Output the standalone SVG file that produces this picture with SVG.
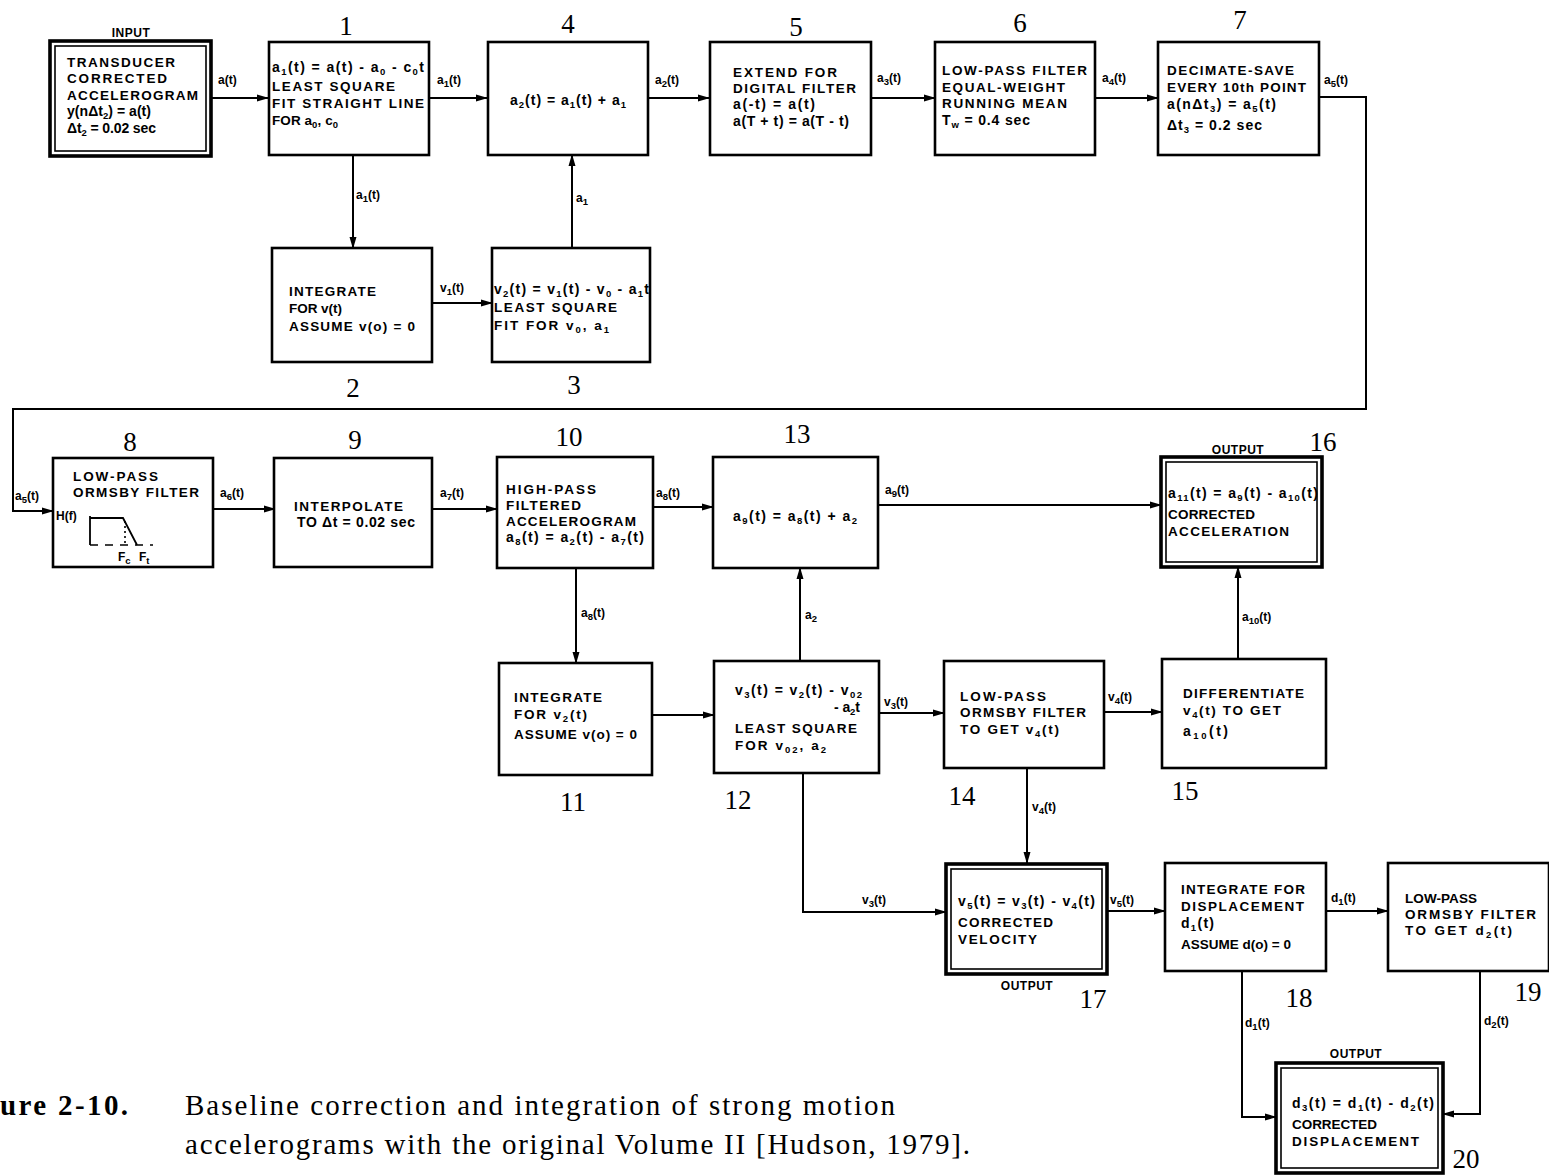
<svg xmlns="http://www.w3.org/2000/svg" width="1549" height="1175" viewBox="0 0 1549 1175">
<defs>
<marker id="ah" markerUnits="userSpaceOnUse" markerWidth="12" markerHeight="8" refX="11" refY="4" orient="auto">
<path d="M0,0.5 L12,4 L0,7.5 z" fill="#000"/>
</marker>
<style>
.bx{fill:#fff;stroke:#000;stroke-width:2.6}
.ob{fill:#fff;stroke:#000;stroke-width:3.6}
.ib{fill:none;stroke:#000;stroke-width:1.6}
.c{fill:none;stroke:#000;stroke-width:2;marker-end:url(#ah)}
.t{font-family:"Liberation Sans",Arial,sans-serif;font-weight:bold;font-size:13.5px;letter-spacing:1px;fill:#000}
.e{font-family:"Liberation Sans",Arial,sans-serif;font-weight:bold;font-size:14px;fill:#000}
.l{font-family:"Liberation Sans",Arial,sans-serif;font-weight:bold;font-size:12px;fill:#000}
.s{font-size:9.5px;baseline-shift:-3px}
.n{font-family:"Liberation Serif","Times New Roman",serif;font-size:27px;text-anchor:middle;fill:#000}
.cap{font-family:"Liberation Serif","Times New Roman",serif;font-size:29px;fill:#000}
.io{font-family:"Liberation Sans",Arial,sans-serif;font-weight:bold;font-size:12px;text-anchor:middle;letter-spacing:0.5px;fill:#000}
</style>
</defs>
<rect width="1549" height="1175" fill="#fff"/>

<g id="connectors">
<path class="c" d="M212,98 H268"/>
<path class="c" d="M429,98 H487"/>
<path class="c" d="M648,98 H709"/>
<path class="c" d="M871,98 H935"/>
<path class="c" d="M1095,98 H1158"/>
<path class="c" d="M1319,97 H1366 V409 H13 V511 H53"/>
<path class="c" d="M353,155 V248"/>
<path class="c" d="M432,303 H492"/>
<path class="c" d="M572,248 V155"/>
<path class="c" d="M213,509 H275"/>
<path class="c" d="M432,509 H497"/>
<path class="c" d="M653,507 H713"/>
<path class="c" d="M878,505 H1161"/>
<path class="c" d="M576,568 V663"/>
<path class="c" d="M652,715 H714"/>
<path class="c" d="M800,661 V568"/>
<path class="c" d="M879,713 H944"/>
<path class="c" d="M1104,712 H1162"/>
<path class="c" d="M1238,659 V567"/>
<path class="c" d="M1027,768 V863"/>
<path class="c" d="M803,773 V912 H946"/>
<path class="c" d="M1107,911 H1165"/>
<path class="c" d="M1326,911 H1388"/>
<path class="c" d="M1242,971 V1117 H1276"/>
<path class="c" d="M1480,971 V1114 H1443"/>
<text class="l" x="218" y="84">a(t)</text>
<text class="l" x="437" y="84">a<tspan class="s">1</tspan>(t)</text>
<text class="l" x="655" y="84">a<tspan class="s">2</tspan>(t)</text>
<text class="l" x="877" y="82">a<tspan class="s">3</tspan>(t)</text>
<text class="l" x="1102" y="82">a<tspan class="s">4</tspan>(t)</text>
<text class="l" x="1324" y="84">a<tspan class="s">5</tspan>(t)</text>
<text class="l" x="356" y="199">a<tspan class="s">1</tspan>(t)</text>
<text class="l" x="440" y="292">v<tspan class="s">1</tspan>(t)</text>
<text class="l" x="576" y="202">a<tspan class="s">1</tspan></text>
<text class="l" x="15" y="500">a<tspan class="s">5</tspan>(t)</text>
<text class="l" x="220" y="497">a<tspan class="s">6</tspan>(t)</text>
<text class="l" x="440" y="497">a<tspan class="s">7</tspan>(t)</text>
<text class="l" x="656" y="497">a<tspan class="s">8</tspan>(t)</text>
<text class="l" x="885" y="494">a<tspan class="s">9</tspan>(t)</text>
<text class="l" x="581" y="617">a<tspan class="s">8</tspan>(t)</text>
<text class="l" x="805" y="619">a<tspan class="s">2</tspan></text>
<text class="l" x="884" y="706">v<tspan class="s">3</tspan>(t)</text>
<text class="l" x="1108" y="701">v<tspan class="s">4</tspan>(t)</text>
<text class="l" x="1242" y="621">a<tspan class="s">10</tspan>(t)</text>
<text class="l" x="1032" y="811">v<tspan class="s">4</tspan>(t)</text>
<text class="l" x="862" y="904">v<tspan class="s">3</tspan>(t)</text>
<text class="l" x="1110" y="904">v<tspan class="s">5</tspan>(t)</text>
<text class="l" x="1331" y="902">d<tspan class="s">1</tspan>(t)</text>
<text class="l" x="1245" y="1027">d<tspan class="s">1</tspan>(t)</text>
<text class="l" x="1484" y="1025">d<tspan class="s">2</tspan>(t)</text>
</g>

<g id="n-input">
<rect class="ob" x="50" y="41" width="161" height="115"/>
<rect class="ib" x="55" y="46" width="151" height="105"/>
<text class="io" x="131" y="37">INPUT</text>
<text class="t" x="67" y="67" textLength="109">TRANSDUCER</text>
<text class="t" x="67" y="83" textLength="101">CORRECTED</text>
<text class="t" x="67" y="100" textLength="132">ACCELEROGRAM</text>
<text class="e" x="67" y="116" textLength="84">y(nΔt<tspan class="s">2</tspan>) = a(t)</text>
<text class="e" x="67" y="133" textLength="89">Δt<tspan class="s">2</tspan> = 0.02 sec</text>
</g>

<g id="n1">
<rect class="bx" x="269" y="42" width="160" height="113"/>
<text class="n" x="346" y="35">1</text>
<text class="e" x="272" y="72" textLength="152">a<tspan class="s">1</tspan>(t) = a(t) - a<tspan class="s">0</tspan> - c<tspan class="s">0</tspan>t</text>
<text class="t" x="272" y="91" textLength="124">LEAST SQUARE</text>
<text class="t" x="272" y="108" textLength="153">FIT STRAIGHT LINE</text>
<text class="t" x="272" y="125" textLength="67">FOR a<tspan class="s">0</tspan>, c<tspan class="s">0</tspan></text>
</g>

<g id="n4">
<rect class="bx" x="488" y="42" width="160" height="113"/>
<text class="n" x="568" y="33">4</text>
<text class="e" x="510" y="105" textLength="116">a<tspan class="s">2</tspan>(t) = a<tspan class="s">1</tspan>(t) + a<tspan class="s">1</tspan></text>
</g>

<g id="n5">
<rect class="bx" x="710" y="42" width="161" height="113"/>
<text class="n" x="796" y="36">5</text>
<text class="t" x="733" y="77" textLength="105">EXTEND FOR</text>
<text class="t" x="733" y="93" textLength="124">DIGITAL FILTER</text>
<text class="e" x="733" y="109" textLength="82">a(-t) = a(t)</text>
<text class="e" x="733" y="126" textLength="116">a(T + t) = a(T - t)</text>
</g>

<g id="n6">
<rect class="bx" x="935" y="42" width="160" height="113"/>
<text class="n" x="1020" y="32">6</text>
<text class="t" x="942" y="75" textLength="146">LOW-PASS FILTER</text>
<text class="t" x="942" y="92" textLength="124">EQUAL-WEIGHT</text>
<text class="t" x="942" y="108" textLength="126">RUNNING MEAN</text>
<text class="e" x="942" y="125" textLength="88">T<tspan class="s">w</tspan> = 0.4 sec</text>
</g>

<g id="n7">
<rect class="bx" x="1158" y="42" width="161" height="113"/>
<text class="n" x="1240" y="29">7</text>
<text class="t" x="1167" y="75" textLength="128">DECIMATE-SAVE</text>
<text class="t" x="1167" y="92" textLength="140">EVERY 10th POINT</text>
<text class="e" x="1167" y="109" textLength="109">a(nΔt<tspan class="s">3</tspan>) = a<tspan class="s">5</tspan>(t)</text>
<text class="e" x="1167" y="130" textLength="95">Δt<tspan class="s">3</tspan> = 0.2 sec</text>
</g>

<g id="n2">
<rect class="bx" x="272" y="248" width="160" height="114"/>
<text class="n" x="353" y="397">2</text>
<text class="t" x="289" y="296" textLength="88">INTEGRATE</text>
<text class="t" x="289" y="313" textLength="54">FOR v(t)</text>
<text class="t" x="289" y="331" textLength="127">ASSUME v(o) = 0</text>
</g>

<g id="n3">
<rect class="bx" x="492" y="248" width="158" height="114"/>
<text class="n" x="574" y="394">3</text>
<text class="e" x="494" y="294" textLength="155">v<tspan class="s">2</tspan>(t) = v<tspan class="s">1</tspan>(t) - v<tspan class="s">0</tspan> - a<tspan class="s">1</tspan>t</text>
<text class="t" x="494" y="312" textLength="124">LEAST SQUARE</text>
<text class="t" x="494" y="330" textLength="116">FIT FOR v<tspan class="s">0</tspan>, a<tspan class="s">1</tspan></text>
</g>

<g id="n8">
<rect class="bx" x="53" y="458" width="160" height="109"/>
<text class="n" x="130" y="451">8</text>
<text class="t" x="73" y="481" textLength="86">LOW-PASS</text>
<text class="t" x="73" y="497" textLength="127">ORMSBY FILTER</text>
<text class="l" x="56" y="520">H(f)</text>
<path d="M90,516 V545 M90,518 H123 L137,545" fill="none" stroke="#000" stroke-width="1.8"/>
<path d="M125,521 V543" fill="none" stroke="#000" stroke-width="1.6" stroke-dasharray="2,3"/>
<path d="M90,545 H153" fill="none" stroke="#000" stroke-width="1.6" stroke-dasharray="8,7"/>
<text class="l" x="118" y="561" font-size="13">F<tspan class="s">c</tspan></text>
<text class="l" x="139" y="561" font-size="13">F<tspan class="s">t</tspan></text>
</g>

<g id="n9">
<rect class="bx" x="274" y="458" width="158" height="109"/>
<text class="n" x="355" y="449">9</text>
<text class="t" x="294" y="511" textLength="110">INTERPOLATE</text>
<text class="e" x="297" y="527" textLength="118">TO Δt = 0.02 sec</text>
</g>

<g id="n10">
<rect class="bx" x="497" y="457" width="156" height="111"/>
<text class="n" x="569" y="446">10</text>
<text class="t" x="506" y="494" textLength="91">HIGH-PASS</text>
<text class="t" x="506" y="510" textLength="76">FILTERED</text>
<text class="t" x="506" y="526" textLength="131">ACCELEROGRAM</text>
<text class="e" x="506" y="542" textLength="138">a<tspan class="s">8</tspan>(t) = a<tspan class="s">2</tspan>(t) - a<tspan class="s">7</tspan>(t)</text>
</g>

<g id="n13">
<rect class="bx" x="713" y="457" width="165" height="111"/>
<text class="n" x="797" y="443">13</text>
<text class="e" x="733" y="521" textLength="124">a<tspan class="s">9</tspan>(t) = a<tspan class="s">8</tspan>(t) + a<tspan class="s">2</tspan></text>
</g>

<g id="n16">
<rect class="ob" x="1161" y="457" width="161" height="110"/>
<rect class="ib" x="1166" y="462" width="151" height="100"/>
<text class="io" x="1238" y="454">OUTPUT</text>
<text class="n" x="1323" y="451">16</text>
<text class="e" x="1168" y="498" textLength="150">a<tspan class="s">11</tspan>(t) = a<tspan class="s">9</tspan>(t) - a<tspan class="s">10</tspan>(t)</text>
<text class="t" x="1168" y="519" textLength="88">CORRECTED</text>
<text class="t" x="1168" y="536" textLength="122">ACCELERATION</text>
</g>

<g id="n11">
<rect class="bx" x="499" y="663" width="153" height="112"/>
<text class="n" x="573" y="811">11</text>
<text class="t" x="514" y="702" textLength="89">INTEGRATE</text>
<text class="t" x="514" y="719" textLength="74">FOR v<tspan class="s">2</tspan>(t)</text>
<text class="t" x="514" y="739" textLength="124">ASSUME v(o) = 0</text>
</g>

<g id="n12">
<rect class="bx" x="714" y="661" width="165" height="112"/>
<text class="n" x="738" y="809">12</text>
<text class="e" x="735" y="695" textLength="127">v<tspan class="s">3</tspan>(t) = v<tspan class="s">2</tspan>(t) - v<tspan class="s">02</tspan></text>
<text class="e" x="834" y="712" textLength="26">- a<tspan class="s">2</tspan>t</text>
<text class="t" x="735" y="733" textLength="123">LEAST SQUARE</text>
<text class="t" x="735" y="750" textLength="92">FOR v<tspan class="s">02</tspan>, a<tspan class="s">2</tspan></text>
</g>

<g id="n14">
<rect class="bx" x="944" y="661" width="160" height="107"/>
<text class="n" x="962" y="805">14</text>
<text class="t" x="960" y="701" textLength="87">LOW-PASS</text>
<text class="t" x="960" y="717" textLength="127">ORMSBY FILTER</text>
<text class="t" x="960" y="734" textLength="100">TO GET v<tspan class="s">4</tspan>(t)</text>
</g>

<g id="n15">
<rect class="bx" x="1162" y="659" width="164" height="109"/>
<text class="n" x="1185" y="800">15</text>
<text class="t" x="1183" y="698" textLength="122">DIFFERENTIATE</text>
<text class="t" x="1183" y="715" textLength="99">v<tspan class="s">4</tspan>(t) TO GET</text>
<text class="e" x="1183" y="736" textLength="45">a<tspan class="s">10</tspan>(t)</text>
</g>

<g id="n17">
<rect class="ob" x="946" y="864" width="161" height="110"/>
<rect class="ib" x="951" y="869" width="151" height="100"/>
<text class="io" x="1027" y="990">OUTPUT</text>
<text class="n" x="1093" y="1008">17</text>
<text class="e" x="958" y="906" textLength="137">v<tspan class="s">5</tspan>(t) = v<tspan class="s">3</tspan>(t) - v<tspan class="s">4</tspan>(t)</text>
<text class="t" x="958" y="927" textLength="96">CORRECTED</text>
<text class="t" x="958" y="944" textLength="80">VELOCITY</text>
</g>

<g id="n18">
<rect class="bx" x="1165" y="863" width="161" height="108"/>
<text class="n" x="1299" y="1007">18</text>
<text class="t" x="1181" y="894" textLength="125">INTEGRATE FOR</text>
<text class="t" x="1181" y="911" textLength="124">DISPLACEMENT</text>
<text class="e" x="1181" y="928" textLength="33">d<tspan class="s">1</tspan>(t)</text>
<text class="t" x="1181" y="949" textLength="111">ASSUME d(o) = 0</text>
</g>

<g id="n19">
<rect class="bx" x="1388" y="863" width="161" height="108"/>
<text class="n" x="1528" y="1001">19</text>
<text class="t" x="1405" y="903" textLength="73">LOW-PASS</text>
<text class="t" x="1405" y="919" textLength="132">ORMSBY FILTER</text>
<text class="t" x="1405" y="935" textLength="108">TO GET d<tspan class="s">2</tspan>(t)</text>
</g>

<g id="n20">
<rect class="ob" x="1276" y="1063" width="167" height="110"/>
<rect class="ib" x="1281" y="1068" width="157" height="100"/>
<text class="io" x="1356" y="1058">OUTPUT</text>
<text class="n" x="1466" y="1168" font-size="26">20</text>
<text class="e" x="1292" y="1108" textLength="142">d<tspan class="s">3</tspan>(t) = d<tspan class="s">1</tspan>(t) - d<tspan class="s">2</tspan>(t)</text>
<text class="t" x="1292" y="1129" textLength="86">CORRECTED</text>
<text class="t" x="1292" y="1146" textLength="128">DISPLACEMENT</text>
</g>

<g id="caption">
<text class="cap" x="0" y="1115" font-weight="bold" textLength="128">ure 2-10.</text>
<text class="cap" x="185" y="1115" textLength="710">Baseline correction and integration of strong motion</text>
<text class="cap" x="185" y="1154" textLength="785">accelerograms with the original Volume II [Hudson, 1979].</text>
</g>
</svg>
